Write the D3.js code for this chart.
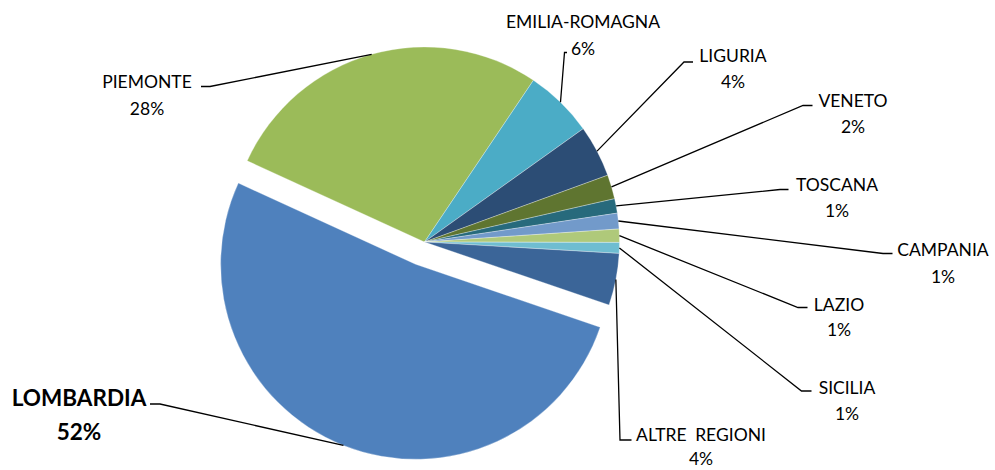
<!DOCTYPE html>
<html>
<head>
<meta charset="utf-8">
<script src="https://cdn.jsdelivr.net/npm/d3@7"></script>
<style>
  html, body { margin: 0; padding: 0; background: #fff; }
  svg { display: block; }
  text { font-family: Lato, "Open Sans", sans-serif; fill: #000; }
</style>
</head>
<body>
<svg id="chart" width="995" height="470"></svg>
<script>
// ---- data ----
const regions = ["LOMBARDIA", "PIEMONTE", "EMILIA-ROMAGNA", "LIGURIA", "VENETO",
                 "TOSCANA", "CAMPANIA", "LAZIO", "SICILIA", "ALTRE REGIONI"];
const shares = [51.6, 27.6, 5.7, 4.3, 2.0, 1.2, 1.3, 1.1, 0.9, 4.3];
const sliceColors = ["#4F81BD", "#9BBB59", "#4BACC6", "#2C4D75", "#5F7530",
                     "#276A7C", "#729ACA", "#AFC97A", "#6FBDD1", "#3B6598"];
const exploded = [true, false, false, false, false, false, false, false, false, false];

// ---- label layout (text centre, first baseline, leader elbow, tick end, line gap) ----
const labelLayout = [
  { tx: 79,  ty: 406, ex: 160, ey: 404, kx: 150, gap: 34 },
  { tx: 147, ty: 88,  ex: 210, ey: 86.5, kx: 201, gap: 27 },
  { tx: 583, ty: 28,  ex: 564.5, ey: 52.5, kx: 567, gap: 26.5 },
  { tx: 733, ty: 62,  ex: 684, ey: 62,  kx: 693, gap: 26 },
  { tx: 853, ty: 107, ex: 803, ey: 105.5, kx: 812.5, gap: 26 },
  { tx: 837, ty: 191, ex: 780, ey: 189.5, kx: 788.5, gap: 26 },
  { tx: 943, ty: 256, ex: 883, ey: 253.5, kx: 892.5, gap: 26.5 },
  { tx: 839, ty: 310.5, ex: 798, ey: 307.5, kx: 807.5, gap: 25 },
  { tx: 847, ty: 394, ex: 801.5, ey: 391, kx: 811.5, gap: 25.5 },
  { tx: 701, ty: 441, ex: 620, ey: 440, kx: 631.5, gap: 24 }
];

const W = 995, H = 470;
const cx = 424.5, cy = 242, R = 195, explodeDist = 24;
const deg = Math.PI / 180;
const start = 108.84 * deg;

const svg = d3.select("#chart");
const g = svg.append("g").attr("transform", `translate(${cx},${cy})`);

const pie = d3.pie().sort(null).value(d => d).startAngle(start).endAngle(start + 2 * Math.PI);
const arcs = pie(shares);
const arc = d3.arc().innerRadius(0).outerRadius(R);
const edgeArc = d3.arc().innerRadius(R).outerRadius(R);

function offset(d, i) {
  if (!exploded[i]) return [0, 0];
  const a = (d.startAngle + d.endAngle) / 2;
  return [Math.sin(a) * explodeDist, -Math.cos(a) * explodeDist];
}

g.selectAll("path.slice").data(arcs).enter().append("path")
  .attr("class", "slice")
  .attr("d", arc)
  .attr("transform", (d, i) => { const o = offset(d, i); return `translate(${o[0]},${o[1]})`; })
  .attr("fill", (d, i) => sliceColors[i])
  .attr("stroke", "#ffffff")
  .attr("stroke-opacity", 0.5)
  .attr("stroke-width", 0.6);

// leader lines and labels
const total = d3.sum(shares);
arcs.forEach((d, i) => {
  const o = offset(d, i);
  const c = edgeArc.centroid(d);
  const p0 = [cx + c[0] + o[0], cy + c[1] + o[1]];
  const L = labelLayout[i];
  svg.append("polyline")
    .attr("points", [p0, [L.ex, L.ey], [L.kx, L.ey]].map(p => p.join(",")).join(" "))
    .attr("fill", "none")
    .attr("stroke", "#000")
    .attr("stroke-width", 1.3);

  const isMain = i === 0;
  const t = svg.append("text")
    .attr("text-anchor", "middle")
    .style("font-size", isMain ? "22.5px" : "17.5px")
    .style("font-weight", isMain ? "bold" : "normal");
  t.append("tspan").attr("x", L.tx).attr("y", L.ty)
    .style("word-spacing", regions[i].includes(" ") ? "4px" : null)
    .text(regions[i]);
  t.append("tspan").attr("x", L.tx).attr("y", L.ty + L.gap)
    .text(Math.round(d.data / total * 100) + "%");
});
</script>
</body>
</html>
